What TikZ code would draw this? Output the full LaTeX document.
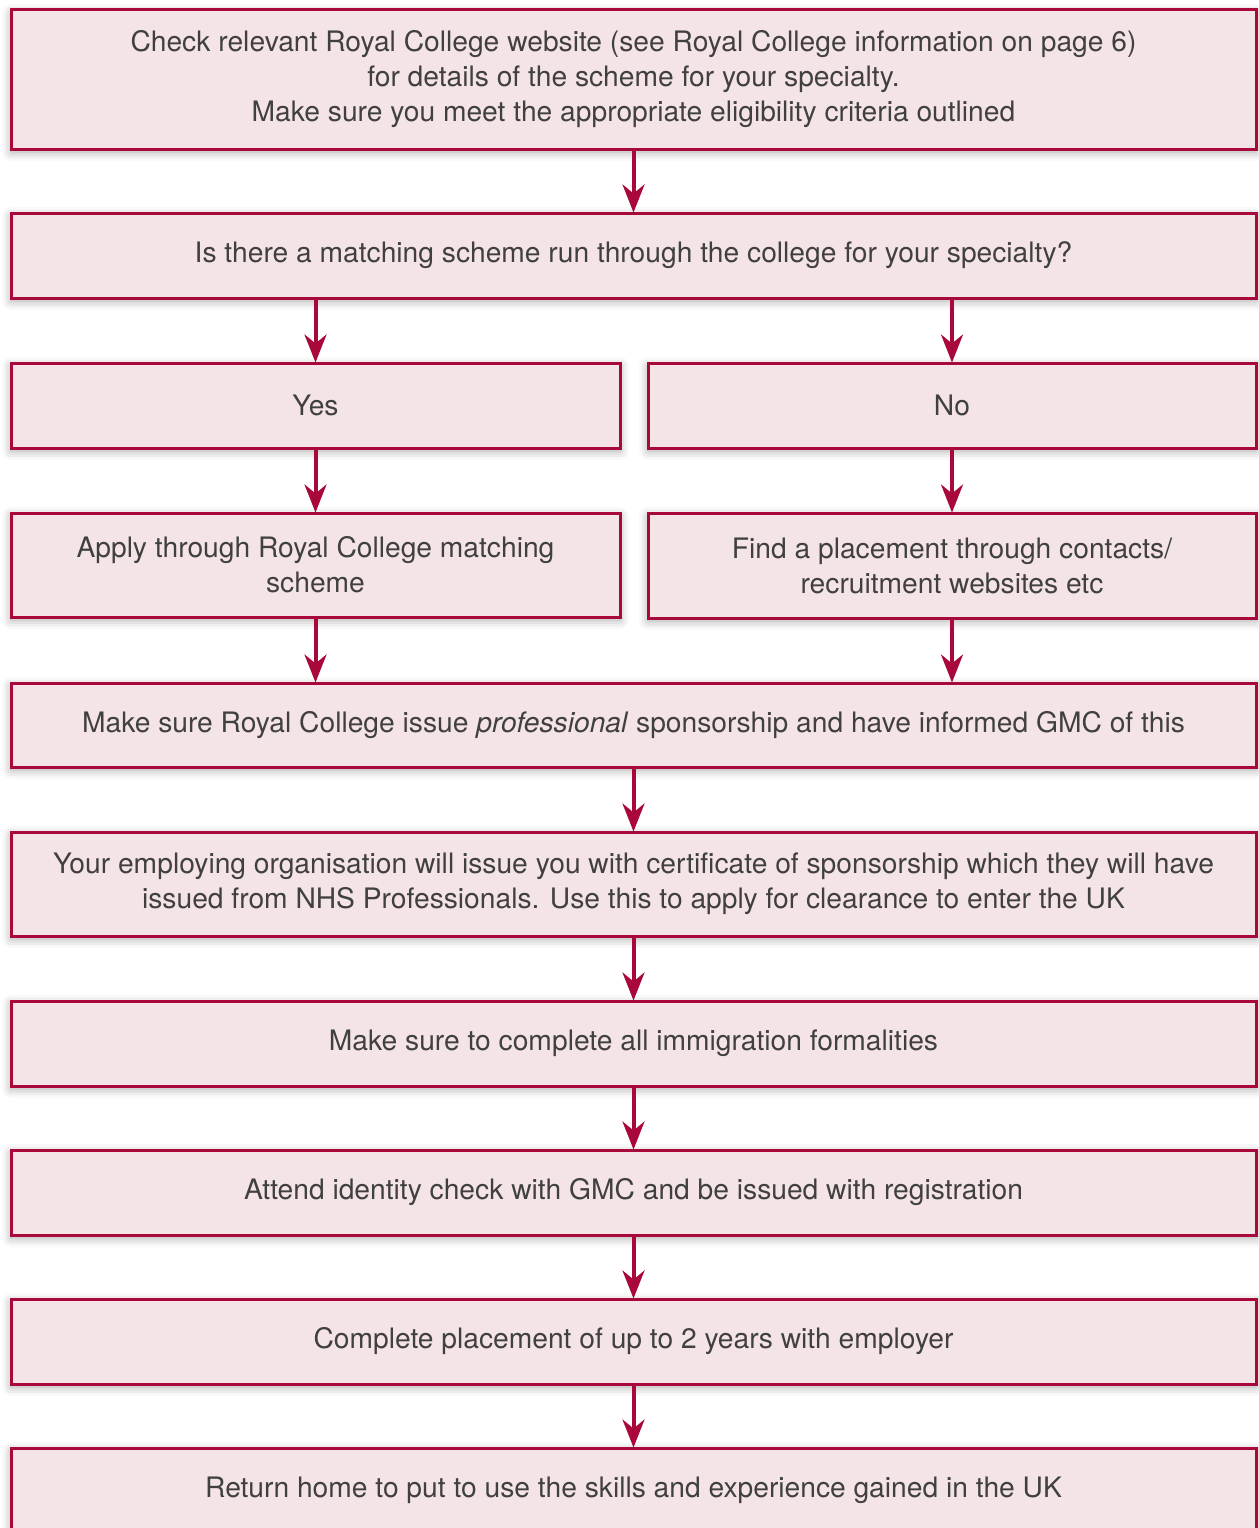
\documentclass[tikz,border=0pt]{standalone}
\usepackage{fontspec}
\setmainfont{TeX Gyre Heros}
\usetikzlibrary{arrows.meta,shadows.blur}
\definecolor{crim}{HTML}{A8083A}
\definecolor{boxfill}{HTML}{F5E4E5}
\definecolor{txt}{HTML}{404040}
\tikzset{
  box/.style={draw=crim, line width=3pt, fill=boxfill, rectangle, inner sep=0pt,
    text=txt, align=center, font=\fontsize{28.2}{35}\selectfont,
    blur shadow={shadow xshift=0pt, shadow yshift=-3pt, shadow blur radius=9pt, shadow opacity=35}},
  arr/.style={draw=crim, line width=4pt, -{Stealth[length=28pt,width=22pt,inset=9pt]}, shorten >=-1pt}
}
\begin{document}
\begin{tikzpicture}[x=1pt,y=-1pt]
\useasboundingbox (0,0) rectangle (1258,1528);
\node[box, minimum width=1245pt, minimum height=139pt] (b1) at (633.5,79.5)
  {Check relevant Royal College website (see Royal College information on page 6)\\
   for details of the scheme for your specialty.\\
   Make sure you meet the appropriate eligibility criteria outlined};
\node[box, minimum width=1245pt, minimum height=85pt] (b2) at (633.5,255.5)
  {Is there a matching scheme run through the college for your specialty?};
\node[box, minimum width=609pt, minimum height=85pt] (yes) at (315.5,405.5) {Yes};
\node[box, minimum width=608pt, minimum height=85pt] (no) at (952,405.5) {No};
\node[box, minimum width=609pt, minimum height=104pt] (apply) at (315.5,565)
  {Apply through Royal College matching\\scheme};
\node[box, minimum width=608pt, minimum height=105pt] (find) at (952,565.5)
  {Find a placement through contacts/\\recruitment websites etc};
\node[box, minimum width=1245pt, minimum height=84pt] (b5) at (633.5,725)
  {Make sure Royal College issue \textit{professional} sponsorship and have informed GMC of this};
\node[box, minimum width=1245pt, minimum height=104pt] (b6) at (633.5,884)
  {Your employing organisation will issue you with certificate of sponsorship which they will have\\
   issued from NHS Professionals. Use this to apply for clearance to enter the UK};
\node[box, minimum width=1245pt, minimum height=85pt] (b7) at (633.5,1043.5)
  {Make sure to complete all immigration formalities};
\node[box, minimum width=1245pt, minimum height=85pt] (b8) at (633.5,1192.5)
  {Attend identity check with GMC and be issued with registration};
\node[box, minimum width=1245pt, minimum height=85pt] (b9) at (633.5,1341.5)
  {Complete placement of up to 2 years with employer};
\node[box, minimum width=1245pt, minimum height=85pt] (b10) at (633.5,1490.5)
  {Return home to put to use the skills and experience gained in the UK};
\draw[arr] (b1.south) -- (b2.north);
\draw[arr] (b2.south -| yes.north) -- (yes.north);
\draw[arr] (b2.south -| no.north) -- (no.north);
\draw[arr] (yes) -- (apply);
\draw[arr] (no) -- (find);
\draw[arr] (apply.south) -- (apply.south |- b5.north);
\draw[arr] (find.south) -- (find.south |- b5.north);
\draw[arr] (b5) -- (b6);
\draw[arr] (b6) -- (b7);
\draw[arr] (b7) -- (b8);
\draw[arr] (b8) -- (b9);
\draw[arr] (b9) -- (b10);
\end{tikzpicture}
\end{document}
